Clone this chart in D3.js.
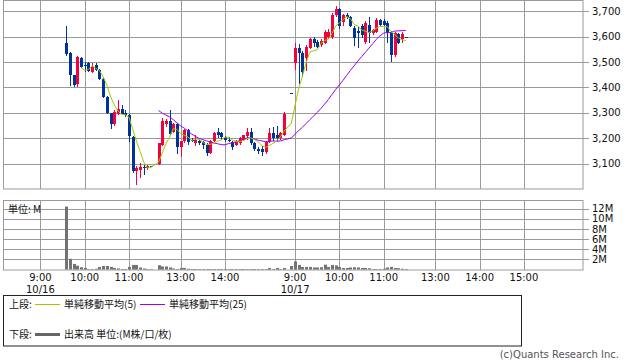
<!DOCTYPE html>
<html><head><meta charset="utf-8">
<script src="https://cdn.jsdelivr.net/npm/d3@7"></script>
<style>
html,body{margin:0;padding:0;background:#fff;}
svg{display:block;}
text{font-family:"DejaVu Sans",sans-serif;}
.jp{font-family:"Noto Sans CJK JP","DejaVu Sans",sans-serif;}
</style></head>
<body>
<svg id="c" width="638" height="362"></svg>
<script>
// ---- data ----
const times = [
"10/16 09:35","10/16 09:40","10/16 09:45","10/16 09:50","10/16 09:55","10/16 10:00","10/16 10:05","10/16 10:10","10/16 10:15","10/16 10:20",
"10/16 10:25","10/16 10:30","10/16 10:35","10/16 10:40","10/16 10:45","10/16 10:50","10/16 10:55","10/16 11:00","10/16 11:05","10/16 11:10",
"10/16 11:15","10/16 11:20","10/16 11:25","10/16 11:30",
"10/16 12:30","10/16 12:35","10/16 12:40","10/16 12:45","10/16 12:50","10/16 12:55","10/16 13:00","10/16 13:05","10/16 13:10","10/16 13:15",
"10/16 13:20","10/16 13:25","10/16 13:30","10/16 13:35","10/16 13:40","10/16 13:45","10/16 13:50","10/16 13:55","10/16 14:00","10/16 14:05",
"10/16 14:10","10/16 14:15","10/16 14:20","10/16 14:25","10/16 14:30","10/16 14:35","10/16 14:40","10/16 14:45","10/16 14:50","10/16 14:55",
"10/16 15:00","10/16 15:05","10/16 15:10","10/16 15:15","10/16 15:20","10/16 15:30",
"10/17 09:00","10/17 09:05","10/17 09:10","10/17 09:15","10/17 09:20","10/17 09:25","10/17 09:30","10/17 09:35","10/17 09:40","10/17 09:45",
"10/17 09:50","10/17 09:55","10/17 10:00","10/17 10:05","10/17 10:10","10/17 10:15","10/17 10:20","10/17 10:25","10/17 10:30","10/17 10:35",
"10/17 10:40","10/17 10:45","10/17 10:50","10/17 10:55","10/17 11:00","10/17 11:05","10/17 11:10","10/17 11:15","10/17 11:20","10/17 11:25",
"10/17 11:30"
];
const open = [
3575,3535,3447,3415,3515,3488,3495,3460,3490,3468,
3435,3362,3298,3255,3295,3315,3300,3290,3205,3072,
3075,3088,3082,3090,
3100,3175,3255,3270,3225,3255,3165,3188,3232,3192,
3180,3190,3185,3175,3142,3190,3225,3220,3205,3195,
3185,3175,3180,3195,3210,3225,3180,3160,3160,3145,
3185,3222,3212,3200,3215,3380,
3495,3553,3535,3515,3554,3589,3578,3566,3574,3597,
3597,3684,3708,3657,3684,3676,3633,3620,3640,3578,
3645,3613,3617,3665,3660,3653,3613,3526,3610,3590,
3597
];
const high = [
3641,3540,3450,3522,3520,3500,3500,3495,3495,3472,
3440,3365,3300,3310,3350,3330,3310,3295,3210,3090,
3105,3095,3095,3090,
3182,3278,3275,3310,3262,3262,3190,3235,3238,3200,
3215,3195,3190,3180,3195,3225,3240,3225,3210,3205,
3190,3195,3205,3215,3240,3240,3185,3165,3170,3190,
3240,3245,3250,3225,3305,3380,
3575,3572,3545,3565,3595,3597,3585,3590,3625,3630,
3692,3721,3712,3690,3692,3680,3640,3637,3650,3660,
3676,3630,3672,3670,3668,3660,3620,3618,3615,3617,
3597
];
const low = [
3525,3405,3402,3400,3476,3462,3460,3455,3465,3430,
3360,3295,3238,3250,3290,3290,3285,3185,3065,3015,
3045,3055,3075,3088,
3095,3170,3245,3215,3220,3140,3125,3180,3175,3185,
3170,3175,3160,3130,3138,3185,3200,3195,3185,3185,
3155,3170,3175,3190,3195,3175,3150,3140,3130,3140,
3180,3190,3190,3195,3210,3380,
3470,3415,3440,3465,3550,3558,3555,3560,3570,3590,
3590,3675,3630,3640,3670,3638,3562,3554,3595,3570,
3574,3605,3613,3640,3640,3574,3500,3518,3570,3574,
3597
];
const close = [
3533,3447,3410,3518,3480,3483,3463,3480,3470,3435,
3362,3298,3258,3305,3315,3295,3290,3210,3070,3085,
3088,3082,3090,3088,
3180,3270,3268,3218,3255,3165,3188,3232,3185,3188,
3195,3180,3175,3142,3190,3220,3215,3205,3192,3190,
3165,3190,3200,3212,3225,3180,3160,3150,3145,3185,
3220,3200,3200,3222,3297,3380,
3553,3535,3462,3558,3589,3574,3558,3582,3617,3617,
3684,3708,3641,3684,3676,3641,3593,3613,3605,3653,
3613,3625,3665,3645,3645,3613,3526,3613,3574,3609,
3597
];
const volume = [ // millions
12.4,2.1,1.1,0.75,0.45,0.3,0.1,0.1,0.15,0.5,
0.7,0.7,0.5,0.3,0.2,0.1,0.1,0.5,0.9,0.9,
0.4,0.2,0.1,0.05,
0.85,0.6,0.6,0.4,0.2,0.1,0.3,0.3,0.15,0.1,
0.1,0.05,0.1,0.1,0.1,0.1,0.05,0.05,0.1,0.05,
0.1,0.05,0.05,0.1,0.05,0.1,0.05,0.05,0.1,0.1,
0.3,0.1,0.3,0.1,0.3,0.7,
1.6,0.9,0.5,0.5,0.5,0.4,0.4,0.45,0.95,0.5,
0.9,0.8,0.5,0.3,0.3,0.4,0.45,0.4,0.3,0.3,
0.25,0.1,0.1,0.1,0.15,0.4,0.5,0.3,0.25,0.15,
0.05
];
const tickTimes = ["10/16 09:00","10/16 10:00","10/16 11:00","10/16 13:00","10/16 14:00",
                   "10/17 09:00","10/17 10:00","10/17 11:00","10/17 13:00","10/17 14:00","10/17 15:00"];
const tickLabels = ["9:00","10:00","11:00","13:00","14:00","9:00","10:00","11:00","13:00","14:00","15:00"];
const dateLabels = {0:"10/16", 5:"10/17"};
const priceTicks = [3100,3200,3300,3400,3500,3600,3700];
const volTicks = [2,4,6,8,10,12];
const days = ["10/16","10/17"];
const legendTop = ["上段:", "単純移動平均(5)", "単純移動平均(25)"];
const legendBottom = ["下段:", "出来高 単位:(M株/口/枚)"];
const unitLabel = "単位: M";
const copyright = "(c)Quants Research Inc.";

// ---- helpers ----
// compressed 5-minute slot index: morning 9:00-11:30, 2-slot lunch gap, afternoon 12:30-15:30
function slotOf(t){
  const [d, hm] = t.split(" ");
  const [h, m] = hm.split(":").map(Number);
  const mins = (h-9)*60 + m;
  let s = mins >= 210 ? (mins-210)/5 + 32 : mins/5;
  return s + days.indexOf(d)*69;
}
const bars = times.map((t,i)=>({slot:slotOf(t), o:open[i], h:high[i], l:low[i], c:close[i], v:volume[i]}));
function sma(n){
  return bars.map((b,i)=> i < n-1 ? null : {slot:b.slot, v:d3.mean(bars.slice(i-n+1,i+1), d=>d.c)}).filter(d=>d);
}

// ---- layout ----
const svg = d3.select("#c");
const L = 3.5, R = 583;
const pTop = 1, pBot = 189, vTop = 201, vBot = 270;
const x = d3.scaleLinear().domain([-10, 147]).range([L, R]);
const y = d3.scaleLinear().domain([3001, 3739.5]).range([pBot, pTop]);
const yv = d3.scaleLinear().domain([0, 13.5]).range([vBot - 0.5, vTop]);
const gridC = "#9a9a9a";
const up = "#f5003a", dn = "#003399";

// price panel grid
const gP = svg.append("g");
gP.selectAll("line.h").data(priceTicks).join("line")
  .attr("x1", L).attr("x2", R + 6)
  .attr("y1", d=>Math.round(y(d))+0.5).attr("y2", d=>Math.round(y(d))+0.5)
  .attr("stroke", gridC);
gP.selectAll("line.v").data(tickTimes).join("line")
  .attr("x1", d=>Math.round(x(slotOf(d)))+0.5).attr("x2", d=>Math.round(x(slotOf(d)))+0.5)
  .attr("y1", pTop).attr("y2", pBot).attr("stroke", gridC);
gP.append("rect").attr("x", L).attr("y", pTop-0.5).attr("width", R-L).attr("height", pBot-pTop+0.5)
  .attr("fill","none").attr("stroke", gridC);
gP.selectAll("text").data(priceTicks).join("text")
  .attr("x", 592).attr("y", d=>y(d)+3.6)
  .attr("font-size", 10).attr("fill", "#111")
  .text(d=>d3.format(",")(d));

// volume panel grid
const gV = svg.append("g");
gV.selectAll("line.h").data(volTicks).join("line")
  .attr("x1", L).attr("x2", R + 6)
  .attr("y1", d=>Math.round(yv(d))+0.5).attr("y2", d=>Math.round(yv(d))+0.5)
  .attr("stroke", gridC);
gV.selectAll("line.v").data(tickTimes).join("line")
  .attr("x1", d=>Math.round(x(slotOf(d)))+0.5).attr("x2", d=>Math.round(x(slotOf(d)))+0.5)
  .attr("y1", vTop).attr("y2", vBot).attr("stroke", gridC);
gV.append("rect").attr("x", L).attr("y", vTop-0.5).attr("width", R-L).attr("height", vBot-vTop+0.5)
  .attr("fill","none").attr("stroke", gridC);
gV.selectAll("text").data(volTicks).join("text")
  .attr("x", 592).attr("y", d=>yv(d)+3.6)
  .attr("font-size", 10).attr("fill", "#111")
  .text(d=>d+"M");
svg.append("text").attr("class","jp").attr("x", 8).attr("y", 213)
  .attr("font-size", 10).attr("fill","#111").text(unitLabel);

// volume bars
svg.append("g").selectAll("rect").data(bars).join("rect")
  .attr("x", d=>Math.round(x(d.slot))-1)
  .attr("width", 3)
  .attr("y", d=>yv(d.v))
  .attr("height", d=>Math.max(0.5, yv(0)-yv(d.v)))
  .attr("fill", "#737373");

// candles
const gC = svg.append("g").attr("shape-rendering","crispEdges");
gC.selectAll("line").data(bars).join("line")
  .attr("x1", d=>Math.round(x(d.slot))+0.5).attr("x2", d=>Math.round(x(d.slot))+0.5)
  .attr("y1", d=>y(d.h)).attr("y2", d=>y(d.l))
  .attr("stroke", d=>d.c>d.o?up:dn);
gC.selectAll("rect").data(bars).join("rect")
  .attr("x", d=>Math.round(x(d.slot))-1)
  .attr("width", 3)
  .attr("y", d=>y(Math.max(d.o,d.c)))
  .attr("height", d=>Math.max(1, y(Math.min(d.o,d.c))-y(Math.max(d.o,d.c))))
  .attr("fill", d=>d.c>d.o?up:dn);

// moving averages
const line = d3.line().x(d=>x(d.slot)).y(d=>y(d.v));
svg.append("path").datum(sma(25)).attr("d", line).attr("fill","none").attr("stroke","#9b00f5").attr("stroke-width",1);
svg.append("path").datum(sma(5)).attr("d", line).attr("fill","none").attr("stroke","#9ccc00").attr("stroke-width",1);

// x labels
const gX = svg.append("g");
gX.selectAll("text.t").data(tickTimes).join("text")
  .attr("x", d=>x(slotOf(d))).attr("y", 281)
  .attr("text-anchor","middle").attr("font-size", 10).attr("fill","#111")
  .text((d,i)=>tickLabels[i]);
gX.selectAll("text.d").data(Object.keys(dateLabels)).join("text")
  .attr("x", k=>x(slotOf(tickTimes[k]))).attr("y", 293)
  .attr("text-anchor","middle").attr("font-size", 10).attr("fill","#111")
  .text(k=>dateLabels[k]);

// legend
const gL = svg.append("g");
gL.append("rect").attr("x", 3.5).attr("y", 295.5).attr("width", 518).attr("height", 50.5)
  .attr("fill","none").attr("stroke","#222");
gL.append("text").attr("class","jp").attr("x", 9).attr("y", 308).attr("font-size",10).attr("fill","#111").text(legendTop[0]);
gL.append("line").attr("x1",35).attr("x2",60).attr("y1",304.5).attr("y2",304.5).attr("stroke","#9ccc00");
gL.append("text").attr("class","jp").attr("x", 64).attr("y", 308).attr("font-size",10).attr("fill","#111").text(legendTop[1]);
gL.append("line").attr("x1",140).attr("x2",165).attr("y1",304.5).attr("y2",304.5).attr("stroke","#9b00f5");
gL.append("text").attr("class","jp").attr("x", 169).attr("y", 308).attr("font-size",10).attr("fill","#111").text(legendTop[2]);
gL.append("text").attr("class","jp").attr("x", 9).attr("y", 338).attr("font-size",10).attr("fill","#111").text(legendBottom[0]);
gL.append("line").attr("x1",35).attr("x2",60).attr("y1",334.5).attr("y2",334.5).attr("stroke","#666").attr("stroke-width",3);
gL.append("text").attr("class","jp").attr("x", 64).attr("y", 338).attr("font-size",10).attr("fill","#111").text(legendBottom[1]);
svg.append("text").attr("x", 619).attr("y", 358).attr("text-anchor","end")
  .attr("font-size", 10).attr("fill","#555").text(copyright);
</script>
</body></html>
